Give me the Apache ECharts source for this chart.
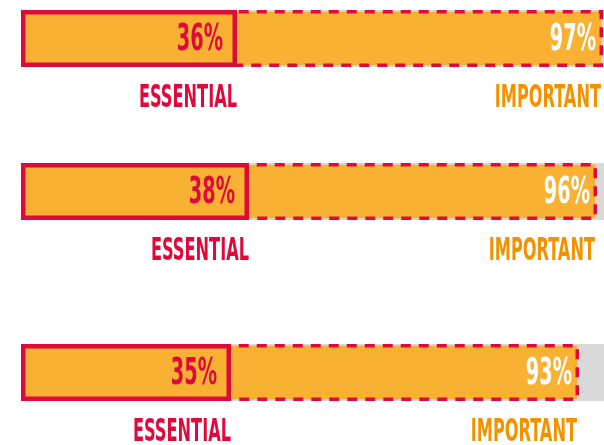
<!DOCTYPE html>
<html><head><meta charset="utf-8">
<script src="https://cdn.jsdelivr.net/npm/echarts@6/dist/echarts.min.js"></script>
<style>html,body{margin:0;padding:0;background:#fff}#c{width:604px;height:445px}</style>
</head><body><div id="c"></div>
<script>
// ---- data ----
const rows = ['Row 1', 'Row 2', 'Row 3'];
const essential = [36, 38, 35];
const important = [97, 96, 93];
const fullScale = [100, 100, 100];
const essentialLabel = 'ESSENTIAL';
const importantLabel = 'IMPORTANT';

// ---- style ----
const RED = '#DE0A3C', ORANGE = '#F8B133', LABEL_ORANGE = '#F39200', GRAY = '#D9D9D9';
const tops = [10, 163, 344];
const BAR_H = 57;
const FONT = '"Liberation Sans Narrow","Arial Narrow","DejaVu Sans Condensed",sans-serif';

const grid = [], xAxis = [], yAxis = [], series = [];
rows.forEach((r, i) => {
  grid.push({left: 21, width: 600, top: tops[i], height: BAR_H, outerBoundsMode: 'none', containLabel: false});
  xAxis.push({gridIndex: i, type: 'value', min: 0, max: 100, show: false});
  yAxis.push({gridIndex: i, type: 'category', data: [r], show: false});
  const common = {type: 'bar', xAxisIndex: i, yAxisIndex: i, barWidth: BAR_H, barGap: '-100%', silent: true, z: 2};
  series.push(Object.assign({}, common, {data: [fullScale[i]], itemStyle: {color: GRAY}}));
  series.push(Object.assign({}, common, {data: [important[i]], itemStyle: {color: ORANGE, borderColor: RED, borderWidth: 3.5, borderType: [10, 8]}}));
  series.push(Object.assign({}, common, {data: [essential[i]], itemStyle: {color: ORANGE, borderColor: RED, borderWidth: 4.5, borderType: 'solid'}}));
  series.push({
    type: 'custom', xAxisIndex: i, yAxisIndex: i, silent: true, z: 10,
    encode: {x: [0, 1], y: 2},
    data: [[essential[i], important[i], 0]],
    renderItem: (params, api) => {
      const e = api.value(0), m = api.value(1);
      const pe = api.coord([e, 0]), pm = api.coord([m, 0]);
      const cy = pe[1];
      const mk = (x, y, text, color, size, sx) => ({
        type: 'text', x: x, y: y, scaleX: sx, z2: 100,
        style: {text: text, fill: color, font: 'bold ' + size + 'px ' + FONT, align: 'right', verticalAlign: 'middle'}
      });
      return {type: 'group', children: [
        mk(pe[0] - 14, cy + 1.5, e + '%', RED, 37, 0.58),
        mk(pm[0] - 7, cy + 1.5, m + '%', '#FFFFFF', 37, 0.58),
        mk(pe[0], cy + 60, essentialLabel, RED, 32, 0.5625),
        mk(pm[0] - 2, cy + 60, importantLabel, LABEL_ORANGE, 32, 0.5625)
      ]};
    }
  });
});

const chart = echarts.init(document.getElementById('c'), null, {renderer: 'canvas'});
chart.setOption({animation: false, grid, xAxis, yAxis, series});
</script>
</body></html>
